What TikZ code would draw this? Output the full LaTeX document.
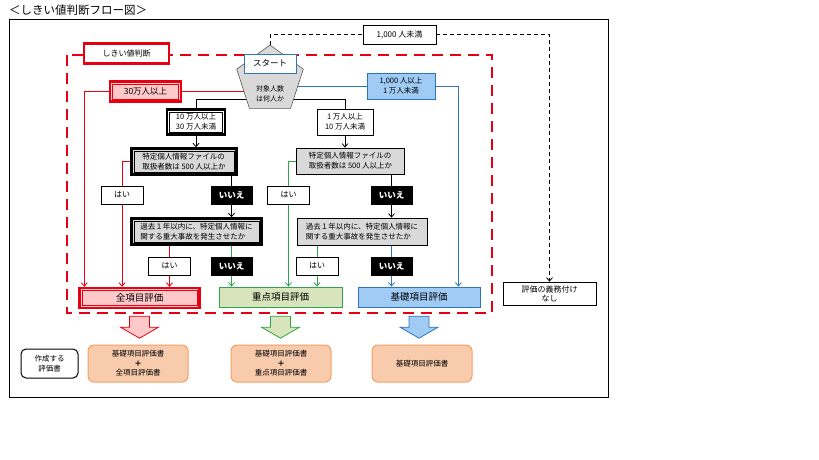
\documentclass[tikz,border=0pt]{standalone}
\usepackage{fontspec}
\setmainfont{Noto Sans CJK JP}
\usetikzlibrary{shapes.geometric,arrows.meta,backgrounds}

\definecolor{redline}{HTML}{E60012}
\definecolor{redfill}{HTML}{FFC9C9}
\definecolor{grnline}{HTML}{2EA44F}
\definecolor{grnfill}{HTML}{D8E4BC}
\definecolor{blueline}{HTML}{2E75B6}
\definecolor{bluefill}{HTML}{9FCBF5}
\definecolor{askgray}{HTML}{D9D9D9}
\definecolor{pentline}{HTML}{595959}
\definecolor{docfill}{HTML}{F8CBAD}
\definecolor{docline}{HTML}{F2A062}

\tikzset{
  box/.style={draw, fill=white, inner sep=0pt, align=center, line width=0.7pt,
    font=\fontsize{7.5}{10}\selectfont},
  hai/.style={box, minimum width=42pt, minimum height=18pt, font=\fontsize{8}{10}\selectfont},
  iie/.style={box, fill=black, text=white, minimum width=41pt, minimum height=18pt,
    font=\fontsize{8.5}{10}\selectfont\bfseries},
  askbox/.style={box, fill=askgray, align=left},
  heavy/.style={line width=2.4pt},
  result/.style={draw, inner sep=0pt, line width=0.8pt, minimum height=20pt,
    font=\fontsize{9.5}{11}\selectfont},
  doc/.style={draw=docline, fill=docfill, rounded corners=6pt, line width=1pt,
    minimum width=100pt, minimum height=37pt, align=center, inner sep=0pt,
    font=\fontsize{7.5}{9.5}\selectfont},
  link/.style={line width=0.8pt, -{Straight Barb[length=3.5pt,width=6pt]}},
}

\begin{document}
\begin{tikzpicture}[x=1pt,y=-1pt]
\useasboundingbox (0,0) rectangle (819,460);

\node[anchor=west, inner sep=0pt, font=\fontsize{11.5}{12}\selectfont] (title) at (9,10) {＜しきい値判断フロー図＞};

% start
\node[regular polygon, regular polygon sides=5, minimum size=70pt, inner sep=0pt,
  fill=askgray, draw=pentline, line width=0.6pt] (start) at (270,80) {};
\node[font=\fontsize{7}{9.5}\selectfont, align=center, inner sep=0pt] (howmany) at (270,94) {対象人数\\は何人か};
\node[box, draw=blueline, minimum width=52pt, minimum height=19pt, font=\fontsize{8.5}{10}\selectfont] (startlbl) at (270,63.5) {スタート};
\node[box, draw=redline, line width=2.5pt, minimum width=85pt, minimum height=20pt, font=\fontsize{8}{10}\selectfont] (judge) at (126.5,53.5) {しきい値判断};

\node[box, minimum width=73pt, minimum height=19pt, font=\fontsize{8}{10}\selectfont] (less1000) at (399.5,34.5) {1,000 人未満};
\node[box, minimum width=93pt, minimum height=23pt, font=\fontsize{8}{9}\selectfont] (none) at (549.5,293.5) {評価の義務付け\\なし};

% first split
\node[box, draw=redline, fill=redfill, heavy, minimum width=71pt, minimum height=20pt, font=\fontsize{8.5}{10}\selectfont] (r30) at (145.5,91.5) {30万人以上};
\node[box, draw=blueline, fill=bluefill, minimum width=68pt, minimum height=26pt] (b1000) at (401,86) {1,000 人以上\\1 万人未満};
\node[box, heavy, minimum width=58pt, minimum height=25pt] (k10) at (196,122) {10 万人以上\\30 万人未満};
\node[box, minimum width=56pt, minimum height=26pt] (k1) at (345,122) {1 万人以上\\10 万人未満};

% questions
\node[askbox, heavy, minimum width=105pt, minimum height=26pt] (q1L) at (184,161.5) {特定個人情報ファイルの\\取扱者数は 500 人以上か};
\node[askbox, minimum width=108pt, minimum height=26pt] (q1R) at (350.5,161) {特定個人情報ファイルの\\取扱者数は 500 人以上か};
\node[askbox, heavy, minimum width=130pt, minimum height=26pt] (q2L) at (196.5,231.5) {過去１年以内に、特定個人情報に\\関する重大事故を発生させたか};
\node[askbox, minimum width=130pt, minimum height=27pt] (q2R) at (362,231.5) {過去１年以内に、特定個人情報に\\関する重大事故を発生させたか};

\node[hai] (yes1L) at (122,195) {はい};
\node[iie] (no1L) at (231.5,195) {いいえ};
\node[hai] (yes1R) at (288.5,195) {はい};
\node[iie] (no1R) at (391.5,195) {いいえ};
\node[hai] (yes2L) at (169.5,266) {はい};
\node[iie] (no2L) at (231.5,266) {いいえ};
\node[hai] (yes2R) at (317,266) {はい};
\node[iie] (no2R) at (391.5,266) {いいえ};

% results
\node[result, draw=redline, fill=redfill, heavy, minimum width=120pt, minimum height=20pt] (all) at (139.5,298) {全項目評価};
\node[result, draw=grnline, fill=grnfill, minimum width=123pt] (focus) at (280.5,297) {重点項目評価};
\node[result, draw=blueline, fill=bluefill, minimum width=122pt] (basic) at (419,297) {基礎項目評価};

% inner line of the heavy frames
\foreach \n/\c in {r30/redline, all/redline, k10/black, q1L/black, q2L/black}
  \draw[\c, line width=0.8pt] ([shift={(3.7pt,-3.7pt)}]\n.north west) rectangle ([shift={(-3.7pt,3.7pt)}]\n.south east);

\foreach \n/\f/\d in {all/redfill/redline, focus/grnfill/grnline, basic/bluefill/blueline}
  \filldraw[fill=\f, draw=\d, line width=0.8pt] (\n.south |- all.south) ++(-10,7) -- ++(20,0) -- ++(0,11)
    -- ++(9,0) -- ++(-19,11) -- ++(-19,-11) -- ++(9,0) -- cycle;

% documents
\node[box, rounded corners=5pt, line width=1pt, minimum width=57pt, minimum height=29pt, font=\fontsize{7.5}{10}\selectfont] (legend) at (49.5,363.5) {作成する\\評価書};
\node[doc] (doc1) at (138,363.5) {基礎項目評価書\\{\bfseries ＋}\\全項目評価書};
\node[doc] (doc2) at (281,363.5) {基礎項目評価書\\{\bfseries ＋}\\重点項目評価書};
\node[doc] (doc3) at (422,363.5) {基礎項目評価書};

\begin{pgfonlayer}{background}
\draw[line width=0.8pt] (9,19) rectangle (608,397);
\draw[redline, line width=2.6pt, dash pattern=on 11pt off 7pt] (67,55) rectangle (492,313);

\coordinate (split) at (270,99);
\draw[line width=0.8pt] (split) -| (k10.north);
\draw[line width=0.8pt] (split) -| (k1.north);
\draw[link] (k10.south) -- (k10.south |- q1L.north);
\draw[link] (k1.south) -- (k1.south |- q1R.north);

\draw[redline, line width=0.8pt] (start.center |- r30) -- (r30.east);
\draw[link, redline] (r30.west) -| ([xshift=6pt]all.north west);
\draw[blueline, line width=0.8pt] (start.center |- b1000) -- (b1000.west);
\draw[link, blueline] (b1000.east) -| ([xshift=-22pt]basic.north east);

\draw[link, redline] (q1L.west) -| (all.north -| yes1L);
\draw[link] (q1L.south -| no1L) -- (q2L.north -| no1L);
\draw[link, grnline] (q1R.west) -| (focus.north -| yes1R);
\draw[link] (q1R.south -| no1R) -- (q2R.north -| no1R);

\draw[link, redline] (q2L.south -| yes2L) -- (all.north -| yes2L);
\draw[link, grnline] (q2L.south -| no2L) -- (focus.north -| no2L);
\draw[link, grnline] (q2R.south -| yes2R) -- (focus.north -| yes2R);
\draw[link, blueline] (q2R.south -| no2R) -- (basic.north -| no2R);

\draw[link, dash pattern=on 4pt off 3pt] (start.north) |- (less1000) -| (none.north);
\end{pgfonlayer}
\end{tikzpicture}
\end{document}
